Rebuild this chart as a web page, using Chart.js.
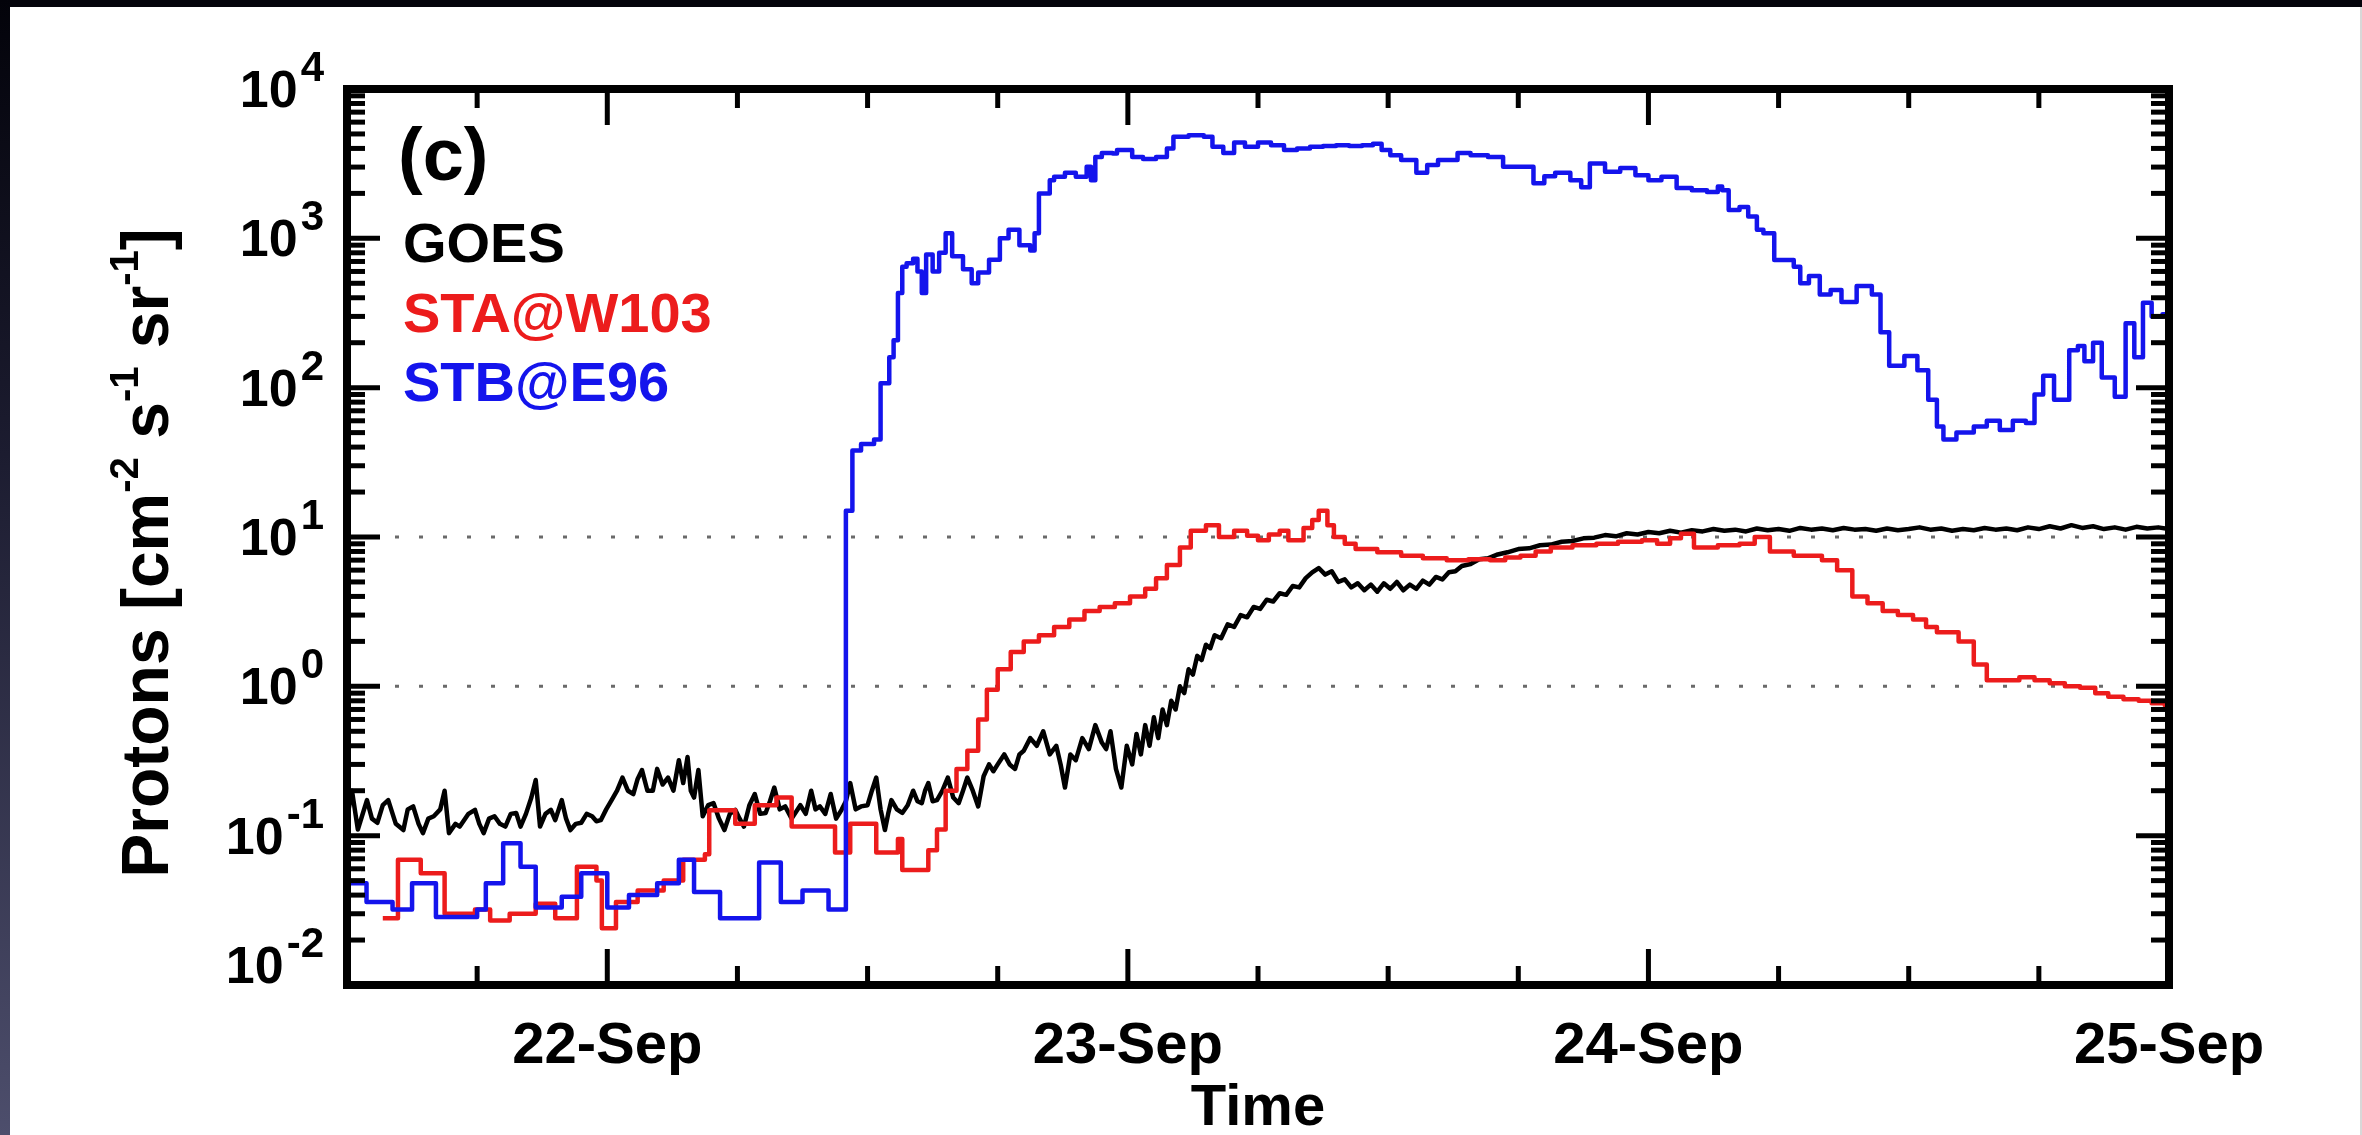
<!DOCTYPE html>
<html>
<head>
<meta charset="utf-8">
<title>Proton flux, 21-25 September</title>
<script src="https://cdn.jsdelivr.net/npm/chart.js@4.4.1/dist/chart.umd.min.js"></script>
<style>
  html, body { margin: 0; padding: 0; background: #fff; }
  #wrap { position: relative; width: 2362px; height: 1135px; overflow: hidden; background: #fff; }
  #c { position: absolute; left: 0; top: 0; }
  #topband { position: absolute; left: 0; top: 0; width: 2362px; height: 7px; background: #04040b; }
  #leftband { position: absolute; left: 0; top: 0; width: 10px; height: 1135px; background: linear-gradient(#03030a, #1c1c30 40%, #4d4e6c); }
  #rightline { position: absolute; right: 0; top: 7px; width: 2px; height: 1128px; background: #d8d8d8; }
</style>
</head>
<body>
<div id="wrap">
  <canvas id="c" width="2362" height="1135"></canvas>
  <div id="topband"></div>
  <div id="leftband"></div>
  <div id="rightline"></div>
</div>
<script>
// Time axis: hours counted from 21-Sep 12:00 UT
const dayTickHours = [12, 36, 60, 84];
const dayTickLabels = ['22-Sep', '23-Sep', '24-Sep', '25-Sep'];
const minorTickStepHours = 6;
const decadeTicks = [1e-2, 1e-1, 1, 10, 100, 1000, 10000];
const decadeExponents = ['-2', '-1', '0', '1', '2', '3', '4'];
const minorMultipliers = [2, 3, 4, 5, 6, 7, 8, 9];
const thresholdLevels = [1, 10];
const seriesNames = ['GOES', 'STA@W103', 'STB@E96'];
const panelTag = '(c)';
const xTitle = 'Time';
const yTitleParts = [['Protons [cm', false], ['-2', true], [' s', false], ['-1', true], [' sr', false], ['-1', true], [']', false]];

// GOES proton flux [hour, flux]
const goesPoints = [
  [0.0,0.13],[0.23,0.20],[0.5,0.11],[0.92,0.173],[1.15,0.13],[1.4,0.122],[1.65,0.16],[1.9,0.173],
  [2.25,0.12],[2.6,0.109],[2.8,0.15],[3.05,0.157],[3.3,0.12],[3.5,0.104],[3.75,0.13],[4.0,0.135],
  [4.3,0.15],[4.5,0.2],[4.7,0.104],[5.0,0.12],[5.2,0.115],[5.6,0.14],[5.9,0.149],[6.1,0.12],
  [6.3,0.104],[6.55,0.13],[6.8,0.135],[7.05,0.12],[7.3,0.115],[7.55,0.14],[7.8,0.142],[8.0,0.115],
  [8.25,0.14],[8.5,0.18],[8.7,0.236],[8.9,0.115],[9.15,0.14],[9.4,0.149],[9.6,0.127],[9.9,0.173],
  [10.1,0.13],[10.3,0.109],[10.55,0.12],[10.8,0.122],[11.05,0.14],[11.3,0.135],[11.5,0.125],[11.7,0.127],
  [11.95,0.15],[12.2,0.173],[12.45,0.2],[12.7,0.245],[12.95,0.2],[13.2,0.19],[13.4,0.24],[13.6,0.275],
  [13.85,0.2],[14.1,0.2],[14.3,0.28],[14.55,0.22],[14.8,0.245],[15.05,0.2],[15.3,0.32],[15.5,0.225],
  [15.7,0.336],[15.85,0.2],[16.0,0.18],[16.2,0.275],[16.4,0.135],[16.65,0.16],[16.9,0.165],[17.15,0.13],
  [17.4,0.109],[17.65,0.14],[17.9,0.149],[18.1,0.13],[18.3,0.115],[18.55,0.16],[18.8,0.19],[19.05,0.14],
  [19.3,0.142],[19.5,0.17],[19.7,0.21],[19.95,0.15],[20.2,0.157],[20.5,0.13],[20.9,0.16],[21.15,0.14],
  [21.4,0.2],[21.6,0.15],[21.8,0.157],[22.05,0.14],[22.3,0.19],[22.55,0.13],[22.8,0.149],[23.0,0.17],
  [23.2,0.225],[23.45,0.15],[23.7,0.157],[24.0,0.16],[24.2,0.2],[24.4,0.245],[24.6,0.15],[24.8,0.109],
  [24.95,0.14],[25.1,0.173],[25.35,0.15],[25.6,0.142],[25.85,0.16],[26.1,0.2],[26.3,0.17],[26.5,0.165],
  [26.65,0.2],[26.8,0.225],[27.0,0.17],[27.2,0.173],[27.45,0.2],[27.7,0.245],[27.95,0.18],[28.2,0.165],
  [28.4,0.2],[28.6,0.245],[28.85,0.2],[29.1,0.157],[29.35,0.25],[29.6,0.3],[29.8,0.27],[30.0,0.3],
  [30.3,0.35],[30.55,0.3],[30.8,0.28],[31.0,0.35],[31.2,0.37],[31.5,0.45],[31.8,0.4],[32.1,0.5],
  [32.4,0.35],[32.7,0.4],[32.9,0.3],[33.1,0.21],[33.35,0.35],[33.6,0.32],[33.9,0.45],[34.2,0.38],
  [34.5,0.55],[34.8,0.42],[35.0,0.38],[35.2,0.5],[35.45,0.28],[35.7,0.21],[35.95,0.4],[36.2,0.3],
  [36.4,0.48],[36.6,0.35],[36.8,0.55],[37.0,0.4],[37.2,0.62],[37.4,0.45],[37.6,0.7],[37.8,0.55],
  [38.0,0.8],[38.2,0.7],[38.4,1.0],[38.6,0.9],[38.8,1.3],[39.0,1.2],[39.2,1.6],[39.4,1.5],
  [39.6,1.9],[39.8,1.8],[40.0,2.2],[40.3,2.1],[40.6,2.6],[40.9,2.5],[41.2,3.0],[41.5,2.9],
  [41.8,3.4],[42.1,3.3],[42.4,3.8],[42.7,3.7],[43.0,4.2],[43.3,4.1],[43.6,4.7],[43.9,4.6],
  [44.2,5.3],[44.5,5.8],[44.8,6.2],[45.1,5.6],[45.4,5.9],[45.7,5.0],[46.0,5.2],[46.3,4.6],
  [46.6,4.9],[46.9,4.4],[47.2,4.8],[47.5,4.3],[47.8,4.9],[48.1,4.5],[48.4,5.0],[48.7,4.4],
  [49.0,4.8],[49.3,4.5],[49.6,5.1],[49.9,4.8],[50.2,5.4],[50.5,5.2],[50.8,5.8],[51.1,5.9],
  [51.4,6.4],[51.8,6.6],[52.2,7.1],[52.6,7.2],[53.0,7.6],[53.5,7.9],[54.0,8.3],[54.5,8.4],
  [55.0,8.8],[55.5,8.9],[56.0,9.3],[56.5,9.4],[57.0,9.8],[57.5,9.9],[58.0,10.3],[58.5,10.1],
  [59.0,10.6],[59.5,10.4],[60.0,10.8],[60.5,10.6],[61.0,11.0],[61.5,10.7],[62.0,11.1],[62.5,10.9],
  [63.0,11.3],[63.5,11.0],[64.0,11.2],[64.5,10.9],[65.0,11.4],[65.5,11.1],[66.0,11.3],[66.5,11.0],
  [67.0,11.5],[67.5,11.2],[68.0,11.4],[68.5,11.1],[69.0,11.5],[69.5,11.2],[70.0,11.3],[70.5,11.0],
  [71.0,11.4],[71.5,11.1],[72.0,11.3],[72.5,11.6],[73.0,11.2],[73.5,11.4],[74.0,11.0],[74.5,11.3],
  [75.0,11.1],[75.5,11.5],[76.0,11.2],[76.5,11.4],[77.0,11.1],[77.5,11.6],[78.0,11.3],[78.5,11.8],
  [79.0,11.4],[79.5,12.0],[80.0,11.5],[80.5,11.8],[81.0,11.3],[81.5,11.6],[82.0,11.2],[82.5,11.7],
  [83.0,11.4],[83.5,11.6],[84.0,11.3]
];

// STEREO-A proton flux [bin start hour, flux]
const staPoints = [
  [1.65,0.028],[2.35,0.069],[3.4,0.056],[4.5,0.030],[5.9,0.032],[6.6,0.027],[7.5,0.03],[8.7,0.035],
  [9.6,0.028],[10.6,0.062],[11.5,0.05],[11.75,0.024],[12.4,0.036],[13.4,0.043],[14.6,0.05],[15.5,0.069],
  [16.5,0.075],[16.7,0.148],[17.9,0.12],[18.8,0.16],[19.8,0.18],[20.5,0.115],[22.5,0.077],[23.2,0.12],
  [24.4,0.077],[25.4,0.095],[25.6,0.059],[26.8,0.08],[27.2,0.11],[27.6,0.2],[28.1,0.28],[28.6,0.37],
  [29.1,0.6],[29.5,0.95],[30.0,1.3],[30.6,1.7],[31.2,2.0],[31.9,2.2],[32.6,2.5],[33.3,2.8],
  [34.0,3.2],[34.7,3.4],[35.4,3.6],[36.1,4.0],[36.8,4.5],[37.3,5.3],[37.8,6.5],[38.4,8.5],
  [38.9,11.0],[39.6,12.0],[40.2,10.0],[40.9,11.0],[41.5,10.2],[42.0,9.5],[42.5,10.4],[43.0,11.0],
  [43.4,9.5],[44.1,11.5],[44.5,13.0],[44.8,15.0],[45.2,12.0],[45.5,10.0],[46.0,9.0],[46.5,8.3],
  [47.5,7.9],[48.6,7.5],[49.6,7.2],[50.7,7.0],[51.7,7.1],[52.7,7.0],[53.4,7.3],[54.1,7.5],
  [54.8,8.0],[55.5,8.5],[56.5,8.8],[57.6,9.0],[58.6,9.3],[59.7,9.5],[60.4,9.0],[61.0,9.8],
  [61.5,10.5],[62.1,8.5],[63.2,8.8],[64.2,9.0],[64.9,10.0],[65.6,8.0],[66.7,7.5],[68.0,7.0],
  [68.7,6.0],[69.4,4.0],[70.1,3.6],[70.8,3.2],[71.5,3.0],[72.2,2.8],[72.8,2.5],[73.3,2.3],
  [74.3,2.0],[75.0,1.4],[75.6,1.1],[76.4,1.1],[77.1,1.15],[77.8,1.1],[78.5,1.05],[79.2,1.0],
  [79.9,0.98],[80.6,0.9],[81.2,0.85],[81.9,0.82],[82.6,0.8],[83.2,0.77],[83.8,0.75],[84.0,0.75]
];

// STEREO-B proton flux [bin start hour, flux]
const stbPoints = [
  [0.0,0.048],[0.9,0.036],[2.1,0.032],[3.0,0.048],[4.1,0.0285],[6.0,0.032],[6.4,0.048],[7.2,0.089],
  [8.0,0.062],[8.7,0.033],[9.9,0.039],[10.8,0.056],[12.0,0.033],[13.0,0.04],[14.3,0.048],[15.3,0.069],
  [16.0,0.042],[17.2,0.028],[19.0,0.066],[20.0,0.036],[21.0,0.043],[22.2,0.032],[23.0,15],[23.3,38],
  [23.7,42],[24.3,45],[24.6,107],[25.0,160],[25.2,208],[25.4,430],[25.6,645],[25.8,680],
  [26.1,730],[26.3,600],[26.5,430],[26.7,780],[27.0,600],[27.3,800],[27.6,1080],[27.9,760],
  [28.4,620],[28.8,500],[29.1,590],[29.6,720],[30.1,1000],[30.5,1140],[31.0,900],[31.3,900],
  [31.5,830],[31.7,1080],[31.9,2000],[32.4,2450],[32.6,2580],[33.1,2750],[33.6,2580],[34.1,3020],
  [34.3,2450],[34.5,3500],[34.8,3730],[35.3,3700],[35.5,3900],[36.2,3500],[36.7,3400],[37.3,3500],
  [37.8,4000],[38.1,4790],[38.8,4900],[39.5,4790],[39.9,4100],[40.4,3730],[40.9,4380],[41.4,4100],
  [42.0,4380],[42.6,4200],[43.2,3900],[43.8,4000],[44.4,4100],[45.0,4150],[45.6,4200],[46.2,4150],
  [46.8,4200],[47.3,4300],[47.7,3900],[48.1,3600],[48.6,3340],[49.3,2750],[49.8,3100],[50.3,3340],
  [51.2,3730],[51.8,3600],[52.6,3500],[53.3,3020],[54.0,3020],[54.7,2340],[55.2,2600],[55.7,2750],
  [56.4,2450],[56.9,2200],[57.3,3170],[58.0,2790],[58.7,2960],[59.4,2650],[60.0,2450],[60.6,2580],
  [61.3,2170],[62.0,2100],[62.7,2040],[63.2,2220],[63.4,2100],[63.7,1550],[64.2,1620],[64.6,1400],
  [65.0,1140],[65.3,1080],[65.8,716],[66.3,716],[66.7,645],[67.0,500],[67.4,560],[67.9,420],
  [68.4,450],[68.9,375],[69.6,480],[70.3,420],[70.7,235],[71.1,140],[71.8,163],[72.4,131],
  [72.9,83],[73.3,55],[73.6,45],[74.2,50],[75.0,55],[75.6,60],[76.2,52],[76.8,60],
  [77.4,58],[77.8,90],[78.2,120],[78.7,83],[79.4,178],[79.8,190],[80.1,150],[80.5,200],
  [80.9,117],[81.5,87],[82.0,270],[82.4,160],[82.8,370],[83.2,300],[83.7,310],[84.0,310]
];

const toXY = pts => pts.map(p => ({ x: p[0], y: p[1] }));
const FONT = "'Liberation Sans', Arial, Helvetica, sans-serif";

const datasets = thresholdLevels.map(level => ({
  label: 'level ' + level,
  data: [{ x: 0, y: level }, { x: 84, y: level }],
  borderColor: '#6a6a6a',
  borderWidth: 3,
  borderDash: [4, 20],
  pointRadius: 0,
  order: 10
}));
datasets.push(
  { label: seriesNames[0], data: toXY(goesPoints), borderColor: '#000000', borderWidth: 4.5, pointRadius: 0, order: 3 },
  { label: seriesNames[1], data: toXY(staPoints), borderColor: '#ec1c1c', borderWidth: 4.5, pointRadius: 0, stepped: 'before', order: 2 },
  { label: seriesNames[2], data: toXY(stbPoints), borderColor: '#1414ec', borderWidth: 4.5, pointRadius: 0, stepped: 'before', order: 1 }
);

function line(ctx, x1, y1, x2, y2) {
  ctx.beginPath(); ctx.moveTo(x1, y1); ctx.lineTo(x2, y2); ctx.stroke();
}

// Frame, inward ticks on all four sides, axis labels, titles and the colour-keyed series names
const framePlugin = {
  id: 'frameTicksText',
  afterDraw(chart) {
    const { ctx, chartArea: a, scales } = chart;
    const xs = scales.x, ys = scales.y;
    ctx.save();
    ctx.strokeStyle = '#000';
    ctx.fillStyle = '#000';
    ctx.lineCap = 'butt';

    // time ticks every 6 hours, long ones at midnight
    ctx.lineWidth = 5;
    for (let h = minorTickStepHours; h < xs.max; h += minorTickStepHours) {
      const px = xs.getPixelForValue(h);
      const len = dayTickHours.includes(h) ? 36 : 19;
      line(ctx, px, a.bottom, px, a.bottom - len);
      line(ctx, px, a.top, px, a.top + len);
    }
    // log ticks
    decadeTicks.forEach((v, i) => {
      const py = ys.getPixelForValue(v);
      line(ctx, a.left, py, a.left + 33, py);
      line(ctx, a.right, py, a.right - 33, py);
      if (i < decadeTicks.length - 1) {
        minorMultipliers.forEach(m => {
          const pm = ys.getPixelForValue(v * m);
          line(ctx, a.left, pm, a.left + 18, pm);
          line(ctx, a.right, pm, a.right - 18, pm);
        });
      }
    });
    // frame
    ctx.lineWidth = 8;
    ctx.strokeRect(a.left, a.top, a.right - a.left, a.bottom - a.top);

    // time labels
    ctx.font = 'bold 58px ' + FONT;
    ctx.textAlign = 'center';
    ctx.textBaseline = 'alphabetic';
    dayTickHours.forEach((h, i) => ctx.fillText(dayTickLabels[i], xs.getPixelForValue(h), 1063));
    ctx.fillText(xTitle, (a.left + a.right) / 2, 1125);

    // decade labels 10^n; the lowest one is lifted so it stays level with the frame
    const labelRight = 324;
    decadeTicks.forEach((v, i) => {
      let py = ys.getPixelForValue(v);
      if (py + 20 > a.bottom) py = a.bottom - 20;
      ctx.textAlign = 'right';
      ctx.font = 'bold 42px ' + FONT;
      const ew = ctx.measureText(decadeExponents[i]).width;
      ctx.fillText(decadeExponents[i], labelRight, py - 8);
      ctx.font = 'bold 52px ' + FONT;
      ctx.fillText('10', labelRight - ew - 3, py + 18);
    });

    // y title with superscripts
    const big = 'bold 66px ' + FONT, small = 'bold 40px ' + FONT;
    let total = 0;
    yTitleParts.forEach(([t, sup]) => { ctx.font = sup ? small : big; total += ctx.measureText(t).width; });
    ctx.save();
    ctx.translate(168, 553);
    ctx.rotate(-Math.PI / 2);
    ctx.textAlign = 'left';
    let cx = -total / 2;
    yTitleParts.forEach(([t, sup]) => {
      ctx.font = sup ? small : big;
      ctx.fillText(t, cx, sup ? -30 : 0);
      cx += ctx.measureText(t).width;
    });
    ctx.restore();

    // panel tag and series names
    ctx.textAlign = 'left';
    ctx.font = 'bold 74px ' + FONT;
    ctx.fillText(panelTag, 398, 180);
    ctx.font = 'bold 56px ' + FONT;
    const colors = ['#000000', '#ec1c1c', '#1414ec'];
    const baselines = [262, 332, 401];
    seriesNames.forEach((n, i) => { ctx.fillStyle = colors[i]; ctx.fillText(n, 403, baselines[i]); });
    ctx.restore();
  }
};

new Chart(document.getElementById('c'), {
  type: 'line',
  data: { datasets },
  options: {
    responsive: false,
    animation: false,
    devicePixelRatio: 1,
    layout: { padding: { left: 0, top: 89, right: 193, bottom: 0 } },
    plugins: { legend: { display: false }, tooltip: { enabled: false } },
    elements: { line: { tension: 0, borderJoinStyle: 'round', borderCapStyle: 'butt' } },
    scales: {
      x: {
        type: 'linear', min: 0, max: 84,
        grid: { display: false }, border: { display: false },
        ticks: { display: false },
        afterFit: s => { s.height = 150; }
      },
      y: {
        type: 'logarithmic', min: 0.01, max: 10000,
        grid: { display: false }, border: { display: false },
        ticks: { display: false },
        afterFit: s => { s.width = 347; }
      }
    }
  },
  plugins: [framePlugin]
});
</script>
</body>
</html>
